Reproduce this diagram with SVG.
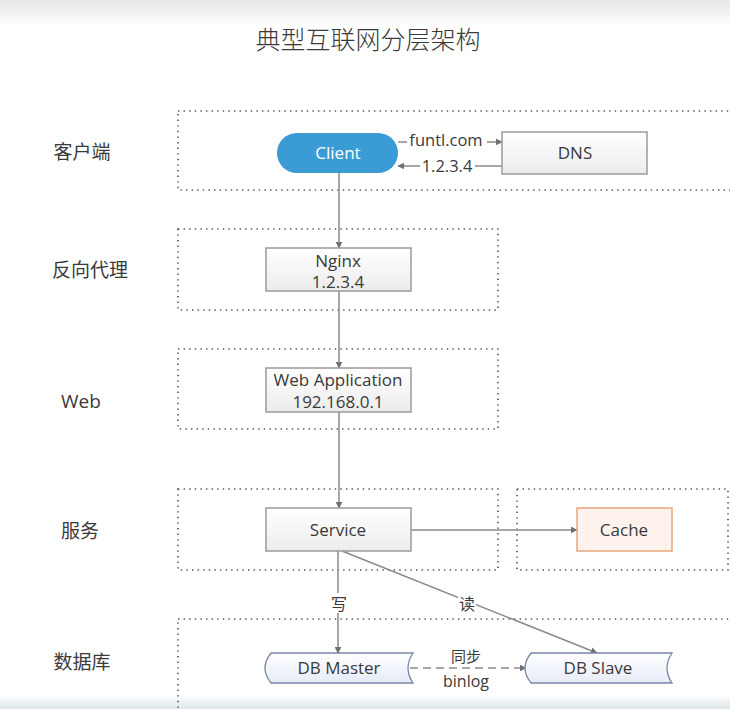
<svg xmlns="http://www.w3.org/2000/svg" width="730" height="709" viewBox="0 0 730 709">
<defs>
<linearGradient id="topg" x1="0" y1="0" x2="0" y2="1"><stop offset="0" stop-color="#e6e6e6"/><stop offset="1" stop-color="#ffffff"/></linearGradient>
<linearGradient id="botg" x1="0" y1="0" x2="0" y2="1"><stop offset="0" stop-color="#ffffff"/><stop offset="1" stop-color="#dfe6ea"/></linearGradient>
<linearGradient id="boxg" x1="0" y1="0" x2="0" y2="1"><stop offset="0" stop-color="#ffffff"/><stop offset="1" stop-color="#ececec"/></linearGradient>
<linearGradient id="dbg" x1="0" y1="0" x2="0" y2="1"><stop offset="0" stop-color="#ffffff"/><stop offset="1" stop-color="#e6ebf7"/></linearGradient>
<marker id="ah" viewBox="0 0 10 10" refX="9" refY="5" markerWidth="7" markerHeight="7" markerUnits="userSpaceOnUse" orient="auto"><path d="M0,0 L10,5 L0,10 Z" fill="#707070"/></marker>
<style>
.t{font-family:"Open Sans","Noto Sans","Noto Sans CJK SC",sans-serif;fill:#3a3a3a;}
.zh{font-family:"Noto Sans CJK SC","Noto Sans",sans-serif;fill:#3a3a3a;}
.region{fill:none;stroke:#555;stroke-width:1.6;stroke-dasharray:1.4 4.2;}
.box{fill:url(#boxg);stroke:#9a9a9a;stroke-width:1.5;}
.db{fill:url(#dbg);stroke:#7a86a6;stroke-width:1.3;}
.ln{fill:none;stroke:#8a8a8a;stroke-width:1.5;}
.lbl{font-size:17px;text-anchor:middle;}
.lay{font-size:19px;text-anchor:middle;}
</style>
</defs>
<rect x="0" y="0" width="730" height="709" fill="#ffffff"/>
<rect x="0" y="0" width="730" height="26" fill="url(#topg)"/>
<rect x="0" y="694" width="730" height="15" fill="url(#botg)"/>

<text class="zh" x="368" y="49" font-size="25" text-anchor="middle" font-weight="300">典型互联网分层架构</text>

<g id="regions">
<rect class="region" x="178" y="111" width="570" height="79"/>
<rect class="region" x="178" y="229" width="320" height="81"/>
<rect class="region" x="178" y="349" width="320" height="80"/>
<rect class="region" x="178" y="489" width="320" height="81"/>
<rect class="region" x="517" y="489" width="211" height="81"/>
<rect class="region" x="178" y="619" width="570" height="110"/>
</g>

<g id="layer-labels">
<text class="zh lay" x="82" y="159">客户端</text>
<text class="zh lay" x="90" y="277">反向代理</text>
<text class="t lay" x="81" y="408">Web</text>
<text class="zh lay" x="80" y="538">服务</text>
<text class="zh lay" x="82" y="669">数据库</text>
</g>

<g id="connectors">
<line class="ln" x1="398" y1="142" x2="502" y2="142" marker-end="url(#ah)"/>
<rect x="407" y="132" width="80" height="18" fill="#fff"/>
<text class="t" x="446" y="146" font-size="16.5" text-anchor="middle">funtl.com</text>
<line class="ln" x1="502" y1="166" x2="398" y2="166" marker-end="url(#ah)"/>
<rect x="420" y="157" width="55" height="18" fill="#fff"/>
<text class="t" x="447" y="172" font-size="16.5" text-anchor="middle">1.2.3.4</text>
<line class="ln" x1="339" y1="173" x2="339" y2="248" marker-end="url(#ah)"/>
<line class="ln" x1="339" y1="291" x2="339" y2="368" marker-end="url(#ah)"/>
<line class="ln" x1="339" y1="412" x2="339" y2="508" marker-end="url(#ah)"/>
<line class="ln" x1="411" y1="530" x2="577" y2="530" marker-end="url(#ah)"/>
<line class="ln" x1="338" y1="551" x2="338" y2="653" marker-end="url(#ah)"/>
<rect x="330" y="593" width="18" height="20" fill="#fff"/>
<text class="zh" x="339" y="610" font-size="16" text-anchor="middle">写</text>
<line class="ln" x1="342" y1="551" x2="597" y2="653" marker-end="url(#ah)"/>
<rect x="458" y="593" width="18" height="20" fill="#fff"/>
<text class="zh" x="467" y="610" font-size="16" text-anchor="middle">读</text>
<line class="ln" x1="410" y1="668" x2="526" y2="668" stroke-dasharray="8 5" marker-end="url(#ah)"/>
<text class="zh" x="466" y="662" font-size="15" text-anchor="middle">同步</text>
<text class="t" x="466" y="687" font-size="16" text-anchor="middle">binlog</text>
</g>

<g id="client">
<rect x="277" y="133" width="121" height="40" rx="20" ry="20" fill="#3b9bd5"/>
<text class="t lbl" x="338" y="159" style="fill:#ffffff">Client</text>
</g>
<g id="dns">
<rect class="box" x="502" y="132" width="145" height="42"/>
<text class="t lbl" x="575" y="159">DNS</text>
</g>
<g id="nginx">
<rect class="box" x="266" y="248" width="145" height="43"/>
<text class="t lbl" x="338" y="267">Nginx</text>
<text class="t lbl" x="338" y="288">1.2.3.4</text>
</g>
<g id="webapp">
<rect class="box" x="266" y="368" width="145" height="44"/>
<text class="t lbl" x="338" y="386">Web Application</text>
<text class="t lbl" x="338" y="408">192.168.0.1</text>
</g>
<g id="service">
<rect class="box" x="266" y="508" width="145" height="43"/>
<text class="t lbl" x="338" y="536">Service</text>
</g>
<g id="cache">
<rect x="577" y="508" width="95" height="43" fill="#fdf2ec" stroke="#e9a679" stroke-width="1.5"/>
<text class="t lbl" x="624" y="536">Cache</text>
</g>
<g id="dbmaster">
<path class="db" d="M271,653 L413,653 Q403,668 413,683 L271,683 Q259,668 271,653 Z"/>
<text class="t lbl" x="339" y="674">DB Master</text>
</g>
<g id="dbslave">
<path class="db" d="M531,653 L672,653 Q662,668 672,683 L531,683 Q519,668 531,653 Z"/>
<text class="t lbl" x="598" y="674">DB Slave</text>
</g>
</svg>
